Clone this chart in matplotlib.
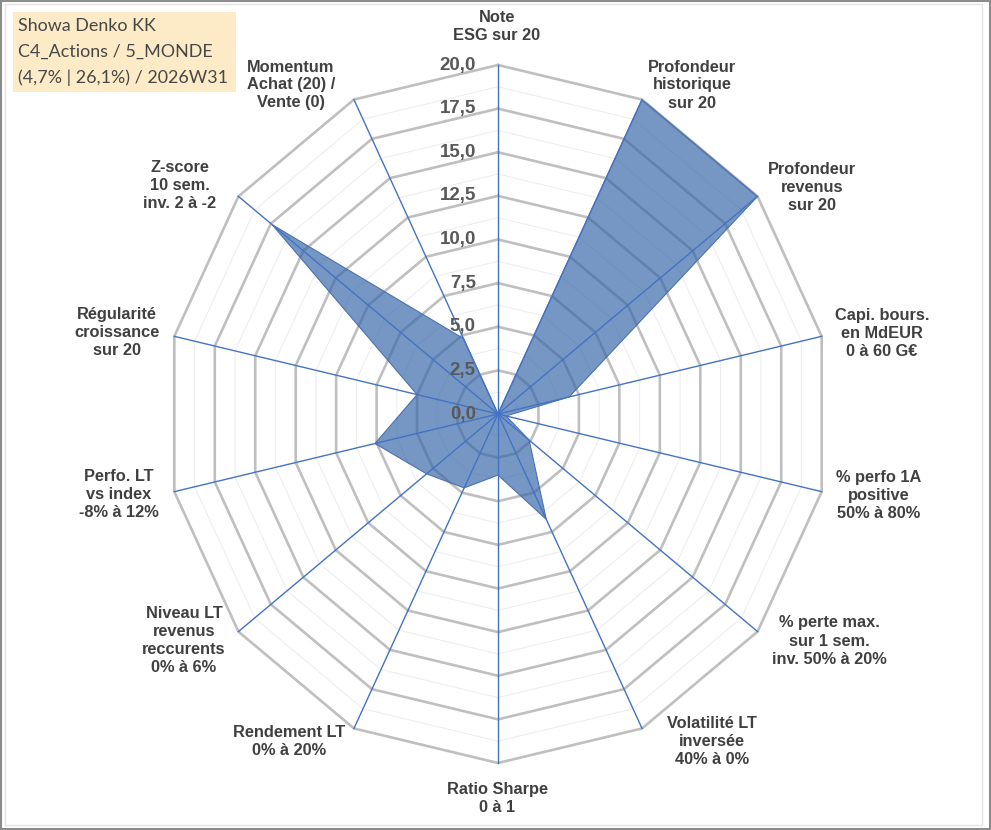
import numpy as np
import matplotlib.pyplot as plt
from matplotlib.patches import Rectangle

AXIS_LABELS = [
    "Note\nESG sur 20",
    "Profondeur\nhistorique\nsur 20",
    "Profondeur\nrevenus\nsur 20",
    "Capi. bours.\nen MdEUR\n0 à 60 G€",
    "% perfo 1A\npositive\n50% à 80%",
    "% perte max.\nsur 1 sem.\ninv. 50% à 20%",
    "Volatilité LT\ninversée\n40% à 0%",
    "Ratio Sharpe\n0 à 1",
    "Rendement LT\n0% à 20%",
    "Niveau LT\nrevenus\nreccurents\n0% à 6%",
    "Perfo. LT\nvs index\n-8% à 12%",
    "Régularité\ncroissance\nsur 20",
    "Z-score\n10 sem.\ninv. 2 à -2",
    "Momentum\nAchat (20) /\nVente (0)",
]
SCORES = [0.0, 20.0, 20.0, 4.4, 0.5, 2.4, 6.7, 3.5, 4.7, 5.5, 7.6, 5.0, 17.4, 4.8]
TICKS = [0.0, 2.5, 5.0, 7.5, 10.0, 12.5, 15.0, 17.5, 20.0]
TICK_LABELS = ["0,0", "2,5", "5,0", "7,5", "10,0", "12,5", "15,0", "17,5", "20,0"]
TITLE_LINES = ["Showa Denko KK", "C4_Actions / 5_MONDE", "(4,7% | 26,1%) / 2026W31"]

# label centres in pixels (x, y from top)
LABEL_XY = [
    (497, 27), (692, 85), (812, 187), (882, 333), (879, 495), (829, 641),
    (712, 742), (497, 798), (289, 741), (184, 640), (119, 494), (117, 332),
    (180, 186), (291, 85),
]

W, H = 991, 830


def main() -> None:
  fig = plt.figure(figsize=(W / 100, H / 100), dpi=100)
  fig.patch.set_facecolor("white")

  cx, cy, rx, ry = 498, 414, 332, 349
  ax = fig.add_axes(
      [(cx - rx) / W, (H - cy - ry) / H, 2 * rx / W, 2 * ry / H],
      projection="polar",
  )
  ax.set_aspect("auto")
  ax.set_theta_zero_location("N")
  ax.set_theta_direction(-1)
  ax.set_ylim(0, 20)
  ax.grid(False)
  ax.set_xticks([])
  ax.set_yticks([])
  ax.spines["polar"].set_visible(False)
  ax.patch.set_alpha(0)

  n = len(SCORES)
  theta = np.arange(n) * 2 * np.pi / n
  ring = np.append(theta, theta[0])

  # polygon grid
  for step in np.arange(1.25, 20.01, 1.25):
    major = abs(step / 2.5 - round(step / 2.5)) < 1e-6
    ax.plot(ring, [step] * len(ring),
            color="#BFBFBF" if major else "#EEEEEE",
            lw=1.9 if major else 0.8, zorder=1, clip_on=False)

  vals = np.append(SCORES, SCORES[0])
  ax.fill(ring, vals, facecolor="#3566A8", alpha=0.68, zorder=2)
  ax.plot(ring, vals, color="#4A72B0", lw=0.8, zorder=2.5)

  for t in theta:
    ax.plot([t, t], [0, 20], color="#4472C4", lw=1.0, zorder=3, clip_on=False)

  for v, lbl in zip(TICKS, TICK_LABELS):
    ax.annotate(lbl, xy=(0, v), xytext=(-16, 0), textcoords="offset points",
                ha="right", va="center", fontsize=13.5, fontweight="bold",
                color="#595959", family="Liberation Sans", zorder=4)

  for (px, py), lbl in zip(LABEL_XY, AXIS_LABELS):
    fig.text(px / W, 1 - py / H, lbl, ha="center", va="center",
             multialignment="center", fontsize=11.8, fontweight="bold",
             color="#404040", family="Liberation Sans", linespacing=1.25)

  # title box
  fig.patches.append(Rectangle((13 / W, 1 - 92 / H), 223 / W, 80 / H,
                               transform=fig.transFigure, facecolor="#FDEBC8",
                               edgecolor="none", zorder=0))
  for i, line in enumerate(TITLE_LINES):
    fig.text(18 / W, 1 - (26 + 26 * i) / H, line, ha="left", va="center",
             fontsize=12.9, color="#474747", family="Lato")

  # chart frame
  fig.patches.append(Rectangle((1 / W, 1 / H), (W - 2) / W, (H - 2) / H,
                               transform=fig.transFigure, fill=False,
                               edgecolor="#8C8C8C", lw=1.5))
  fig.patches.append(Rectangle((5 / W, 5 / H), (W - 14) / W, (H - 9) / H,
                               transform=fig.transFigure, fill=False,
                               edgecolor="#E3E3E3", lw=1.0))

  fig.savefig("out.png", dpi=100)


if __name__ == "__main__":
  main()
